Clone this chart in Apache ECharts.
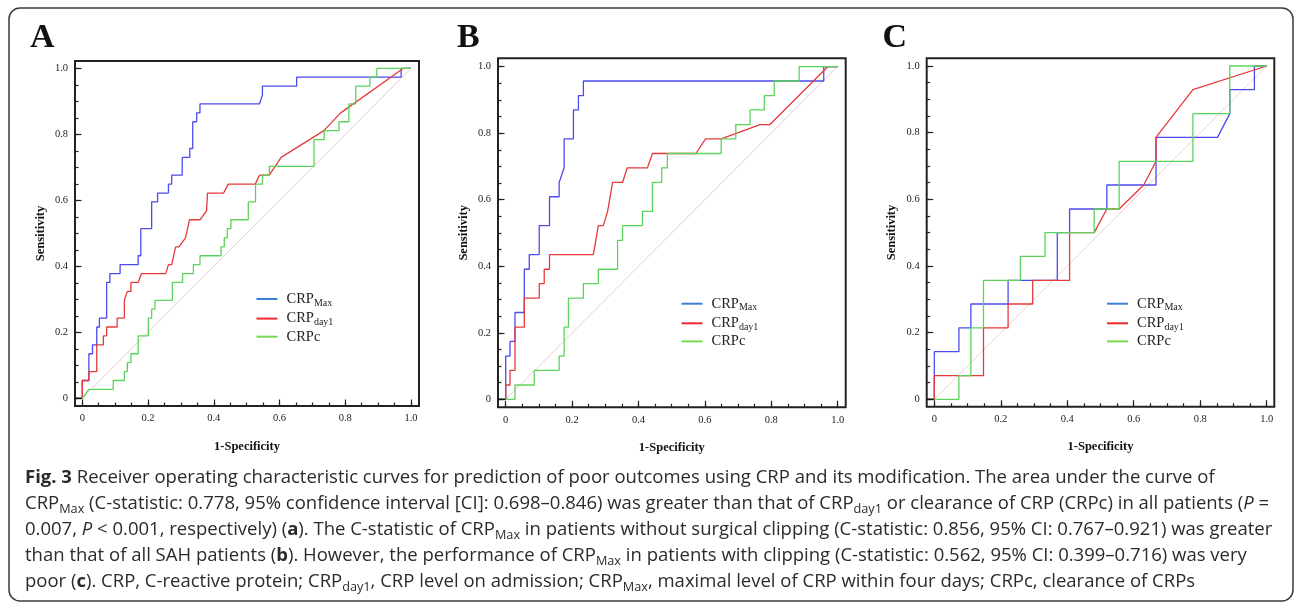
<!DOCTYPE html>
<html>
<head>
<meta charset="utf-8">
<script src="https://cdn.jsdelivr.net/npm/echarts@6/dist/echarts.min.js"></script>
<style>
html,body{margin:0;padding:0;background:#fff;}
#c{width:1295px;height:605px;}
</style>
</head>
<body>
<div id="c"></div>
<script>
// ---------------- DATA ----------------
const seriesNames = ['CRP_Max', 'CRP_day1', 'CRPc'];
const panelLetters = ['A', 'B', 'C'];
const tickValues = [0, 0.2, 0.4, 0.6, 0.8, 1.0];
const minorTickValues = [0,0.05,0.1,0.15,0.2,0.25,0.3,0.35,0.4,0.45,0.5,0.55,0.6,0.65,0.7,0.75,0.8,0.85,0.9,0.95,1.0];
const xAxisTitle = '1-Specificity';
const yAxisTitle = 'Sensitivity';

// Panel A (all patients): [1-specificity, sensitivity] vertices
const aMax = [[0,0],[0,0.054],[0.020,0.054],[0.020,0.135],[0.031,0.135],[0.031,0.162],[0.044,0.162],[0.044,0.216],[0.052,0.216],[0.052,0.243],[0.074,0.243],[0.074,0.351],[0.084,0.351],[0.084,0.378],[0.115,0.378],[0.115,0.405],[0.170,0.405],[0.170,0.432],[0.178,0.432],[0.178,0.514],[0.211,0.514],[0.211,0.595],[0.229,0.595],[0.229,0.622],[0.262,0.622],[0.262,0.649],[0.272,0.649],[0.272,0.676],[0.304,0.676],[0.304,0.730],[0.327,0.730],[0.327,0.757],[0.336,0.757],[0.336,0.838],[0.348,0.838],[0.348,0.865],[0.358,0.865],[0.358,0.892],[0.539,0.892],[0.548,0.919],[0.548,0.946],[0.652,0.946],[0.652,0.973],[0.970,0.973],[0.970,1],[1,1]];
const aDay1 = [[0,0],[0,0.054],[0.020,0.054],[0.020,0.081],[0.044,0.081],[0.044,0.162],[0.064,0.162],[0.064,0.189],[0.074,0.189],[0.074,0.216],[0.106,0.216],[0.106,0.243],[0.128,0.243],[0.128,0.297],[0.137,0.324],[0.148,0.324],[0.148,0.351],[0.170,0.351],[0.180,0.378],[0.254,0.378],[0.262,0.405],[0.272,0.405],[0.284,0.459],[0.294,0.459],[0.314,0.486],[0.326,0.541],[0.358,0.541],[0.378,0.568],[0.381,0.622],[0.430,0.622],[0.444,0.649],[0.526,0.649],[0.539,0.676],[0.569,0.676],[0.605,0.730],[0.735,0.811],[0.786,0.865],[0.977,1],[1,1]];
const aC = [[0,0],[0.020,0.027],[0.094,0.027],[0.094,0.054],[0.128,0.054],[0.128,0.081],[0.137,0.081],[0.137,0.108],[0.148,0.108],[0.148,0.135],[0.170,0.135],[0.170,0.189],[0.201,0.189],[0.201,0.243],[0.211,0.243],[0.211,0.270],[0.221,0.270],[0.221,0.297],[0.274,0.297],[0.274,0.351],[0.305,0.351],[0.305,0.378],[0.338,0.378],[0.338,0.405],[0.358,0.405],[0.358,0.432],[0.422,0.432],[0.422,0.459],[0.432,0.459],[0.432,0.486],[0.441,0.486],[0.441,0.514],[0.452,0.514],[0.452,0.541],[0.505,0.541],[0.505,0.595],[0.527,0.595],[0.527,0.649],[0.548,0.649],[0.548,0.676],[0.569,0.676],[0.569,0.703],[0.705,0.703],[0.705,0.784],[0.736,0.784],[0.736,0.811],[0.781,0.811],[0.781,0.838],[0.811,0.838],[0.811,0.892],[0.832,0.892],[0.832,0.946],[0.875,0.946],[0.875,0.973],[0.896,0.973],[0.896,1],[1,1]];

// Panel B (without surgical clipping)
const bMax = [[0,0],[0,0.130],[0.013,0.130],[0.013,0.174],[0.028,0.174],[0.028,0.261],[0.056,0.261],[0.056,0.391],[0.071,0.391],[0.071,0.435],[0.101,0.435],[0.101,0.522],[0.132,0.522],[0.132,0.609],[0.161,0.609],[0.161,0.652],[0.176,0.696],[0.176,0.783],[0.204,0.783],[0.204,0.870],[0.219,0.870],[0.219,0.913],[0.234,0.913],[0.234,0.957],[0.958,0.957],[0.958,1],[1,1]];
const bDay1 = [[0,0],[0,0.043],[0.013,0.043],[0.013,0.087],[0.028,0.087],[0.028,0.217],[0.056,0.217],[0.056,0.304],[0.101,0.304],[0.101,0.348],[0.116,0.348],[0.116,0.391],[0.132,0.391],[0.132,0.435],[0.264,0.435],[0.279,0.522],[0.294,0.522],[0.307,0.565],[0.322,0.652],[0.352,0.652],[0.366,0.696],[0.427,0.696],[0.442,0.739],[0.573,0.739],[0.602,0.783],[0.649,0.783],[0.766,0.826],[0.796,0.826],[0.970,1],[1,1]];
const bC = [[0,0],[0.028,0],[0.028,0.043],[0.086,0.043],[0.086,0.087],[0.161,0.087],[0.161,0.130],[0.176,0.130],[0.176,0.217],[0.189,0.217],[0.189,0.304],[0.234,0.304],[0.234,0.348],[0.279,0.348],[0.279,0.391],[0.337,0.391],[0.337,0.478],[0.352,0.478],[0.352,0.522],[0.412,0.522],[0.412,0.565],[0.442,0.565],[0.442,0.652],[0.470,0.652],[0.470,0.696],[0.487,0.696],[0.487,0.739],[0.649,0.739],[0.649,0.783],[0.693,0.783],[0.693,0.826],[0.736,0.826],[0.736,0.870],[0.779,0.870],[0.779,0.913],[0.809,0.913],[0.809,0.957],[0.884,0.957],[0.884,1],[1,1]];

// Panel C (with clipping)
const cMax = [[0,0],[0,0.143],[0.074,0.143],[0.074,0.214],[0.110,0.214],[0.110,0.286],[0.222,0.286],[0.222,0.357],[0.370,0.357],[0.370,0.5],[0.407,0.5],[0.407,0.571],[0.519,0.571],[0.519,0.643],[0.667,0.643],[0.667,0.786],[0.852,0.786],[0.889,0.857],[0.889,0.929],[0.963,0.929],[0.963,1],[1,1]];
const cDay1 = [[0,0],[0,0.071],[0.148,0.071],[0.148,0.214],[0.222,0.214],[0.222,0.286],[0.296,0.286],[0.296,0.357],[0.407,0.357],[0.407,0.5],[0.481,0.5],[0.519,0.571],[0.556,0.571],[0.630,0.643],[0.667,0.714],[0.667,0.786],[0.778,0.929],[1,1]];
const cC = [[0,0],[0.074,0],[0.074,0.071],[0.110,0.071],[0.110,0.214],[0.148,0.214],[0.148,0.357],[0.259,0.357],[0.259,0.429],[0.333,0.429],[0.333,0.5],[0.481,0.5],[0.481,0.571],[0.556,0.571],[0.556,0.714],[0.778,0.714],[0.778,0.857],[0.889,0.857],[0.889,1],[1,1]];

const refDiagonal = [[0,0],[1,1]];
const baseStub = [[-0.022,0],[0,0]];

// Caption lines: [style, text] tokens (n normal, b bold, i italic, s subscript, k bold link)
const captionLines = [
  [['b','Fig. 3'],['n',' Receiver operating characteristic curves for prediction of poor outcomes using CRP and its modification. The area under the curve of']],
  [['n','CRP'],['s','Max'],['n',' (C-statistic: 0.778, 95% confidence interval [CI]: 0.698–0.846) was greater than that of CRP'],['s','day1'],['n',' or clearance of CRP (CRPc) in all patients ('],['i','P'],['n',' =']],
  [['n','0.007, '],['i','P'],['n',' < 0.001, respectively) ('],['k','a'],['n','). The C-statistic of CRP'],['s','Max'],['n',' in patients without surgical clipping (C-statistic: 0.856, 95% CI: 0.767–0.921) was greater']],
  [['n','than that of all SAH patients ('],['k','b'],['n','). However, the performance of CRP'],['s','Max'],['n',' in patients with clipping (C-statistic: 0.562, 95% CI: 0.399–0.716) was very']],
  [['n','poor ('],['k','c'],['n','). CRP, C-reactive protein; CRP'],['s','day1'],['n',', CRP level on admission; CRP'],['s','Max'],['n',', maximal level of CRP within four days; CRPc, clearance of CRPs']]
];

// ---------------- LAYOUT / STYLE ----------------
const panelData = [[aMax, aDay1, aC], [bMax, bDay1, bC], [cMax, cDay1, cC]];
const lineColors = ['#4b4bf0', '#e63a3a', '#5cd35c'];
const legendColors = ['#3d7fd6', '#f02a2a', '#76d84c'];
// grid: pixel positions of data [x=0, y=1, x=1, y=0] ; frame: [l,t,r,b]
const layout = [
  {grid:[82.3, 68.3, 411.0, 398.3], frame:[75, 61, 419, 406], letter:[30, 38], legend:[256.5, 290]},
  {grid:[505.7, 66.7, 837.7, 399.3], frame:[498, 58.3, 845.7, 407.3], letter:[457, 38], legend:[681.5, 294.7]},
  {grid:[934.3, 66.0, 1266.7, 399.3], frame:[926.7, 58.3, 1274.3, 406.7], letter:[882.5, 38], legend:[1107, 294.7]}
];
const serif = '"Liberation Serif", "Times New Roman", serif';
const capFont = '"Open Sans"';
const capSize = 17.5, capSub = 12;
const capLeft = 25;
const capBase = [485, 511, 537, 563, 589];
const capRight = [1221, 1272, 1264, 1243, 1198];

const chart = echarts.init(document.getElementById('c'), null, {renderer:'canvas'});

const grids = [], xAxes = [], yAxes = [], series = [], legends = [], graphics = [];
const fmt = v => (Math.abs(v) < 1e-9 ? '0' : v.toFixed(1));
const legendLabel = {CRP_Max:'{m|CRP}{s|Max}', CRP_day1:'{m|CRP}{s|day1}', CRPc:'{m|CRPc}'};
const tickLine = {color:'#222', width:1.2};
const noLine = {show:false, onZero:false};

layout.forEach((L, i) => {
  const [gx0, gy1, gx1, gy0] = L.grid;
  const [fl, ft, fr, fb] = L.frame;
  const sx = gx1 - gx0, sy = gy0 - gy1;
  const xmin = -(gx0 - fl) / sx, xmax = 1 + (fr - gx1) / sx;
  const ymin = -(fb - gy0) / sy, ymax = 1 + (gy1 - ft) / sy;
  grids.push({left:fl, top:ft, width:fr-fl, height:fb-ft, containLabel:false, show:true,
    borderColor:'#222', borderWidth:2, backgroundColor:'transparent'});
  xAxes.push({
    gridIndex:i, type:'value', min:xmin, max:xmax, position:'bottom',
    axisLine:noLine,
    axisTick:{show:true, inside:true, length:3.5, customValues:minorTickValues, lineStyle:tickLine},
    minorTick:{show:false}, splitLine:{show:false},
    axisLabel:{margin:7, fontFamily:serif, fontSize:10.5, color:'#222', formatter:fmt, customValues:tickValues},
    name:xAxisTitle, nameLocation:'middle', nameGap:34,
    nameTextStyle:{fontFamily:serif, fontWeight:'bold', fontSize:12.5, color:'#111'}
  });
  xAxes.push({
    gridIndex:i, type:'value', min:xmin, max:xmax, position:'bottom',
    axisLine:noLine, axisLabel:{show:false}, splitLine:{show:false},
    axisTick:{show:true, inside:true, length:6.5, customValues:tickValues, lineStyle:tickLine}
  });
  yAxes.push({
    gridIndex:i, type:'value', min:ymin, max:ymax, position:'left',
    axisLine:noLine,
    axisTick:{show:true, inside:true, length:3.5, customValues:minorTickValues, lineStyle:tickLine},
    minorTick:{show:false}, splitLine:{show:false},
    axisLabel:{margin:7, fontFamily:serif, fontSize:10.5, color:'#222', formatter:fmt, customValues:tickValues},
    name:yAxisTitle, nameLocation:'middle', nameGap:28, nameRotate:90,
    nameTextStyle:{fontFamily:serif, fontWeight:'bold', fontSize:12.5, color:'#111'}
  });
  yAxes.push({
    gridIndex:i, type:'value', min:ymin, max:ymax, position:'left',
    axisLine:noLine, axisLabel:{show:false}, splitLine:{show:false},
    axisTick:{show:true, inside:true, length:6.5, customValues:tickValues, lineStyle:tickLine}
  });
  const xi = 2 * i, yi = 2 * i;
  series.push({type:'line', xAxisIndex:xi, yAxisIndex:yi, data:refDiagonal, showSymbol:false, symbol:'none', silent:true,
    lineStyle:{color:'#efcbd0', width:1}, z:1});
  series.push({type:'line', xAxisIndex:xi, yAxisIndex:yi, data:baseStub, showSymbol:false, symbol:'none', silent:true, clip:false,
    lineStyle:{color:'#111', width:1.6}, z:2});
  panelData[i].forEach((d, j) => {
    series.push({type:'line', name:seriesNames[j], xAxisIndex:xi, yAxisIndex:yi, data:d, showSymbol:false, symbol:'none',
      lineStyle:{color:lineColors[j], width:1.3}, itemStyle:{color:lineColors[j]}, z:3+j});
  });
  legends.push({
    orient:'vertical', left:L.legend[0], top:L.legend[1], padding:0, itemGap:1.6, itemWidth:21, itemHeight:2,
    icon:'rect', selectedMode:false,
    data: seriesNames.map((n, j) => ({name:n, itemStyle:{color:legendColors[j]}})),
    formatter: n => legendLabel[n],
    textStyle:{ rich:{
      m:{fontFamily:serif, fontSize:14.5, lineHeight:16, color:'#222', padding:[0,0,0,4]},
      s:{fontFamily:serif, fontSize:10, lineHeight:8, color:'#222', padding:[8,0,0,0]}
    }}
  });
  graphics.push({type:'text', x:L.letter[0], y:L.letter[1], style:{text:panelLetters[i], font:'bold 34px ' + serif, fill:'#111', verticalAlign:'middle'}, silent:true});
});

// outer rounded border
graphics.push({type:'rect', shape:{x:9, y:8, width:1284, height:593, r:11}, style:{fill:'none', stroke:'#3a3a3a', lineWidth:1.5}, silent:true});

// caption
const richCap = {
  n:{fontFamily:capFont, fontSize:capSize, lineHeight:22, color:'#2b2b2b'},
  b:{fontFamily:capFont, fontSize:capSize, fontWeight:'bold', lineHeight:22, color:'#1e1e1e'},
  k:{fontFamily:capFont, fontSize:capSize, fontWeight:'bold', lineHeight:22, color:'#163a70'},
  i:{fontFamily:capFont, fontSize:capSize, fontStyle:'italic', lineHeight:22, color:'#2b2b2b'},
  s:{fontFamily:capFont, fontSize:capSub, lineHeight:10, padding:[11,0,0,0], color:'#2b2b2b'}
};
const mctx = document.createElement('canvas').getContext('2d');
function tokenFont(st){
  if (st === 's') return capSub + 'px ' + capFont;
  if (st === 'b' || st === 'k') return 'bold ' + capSize + 'px ' + capFont;
  if (st === 'i') return 'italic ' + capSize + 'px ' + capFont;
  return capSize + 'px ' + capFont;
}
let sumM = 0, sumT = 0;
captionLines.forEach((line, k) => {
  let w = 0;
  line.forEach(([st, t]) => { mctx.font = tokenFont(st); w += mctx.measureText(t).width; });
  sumM += w; sumT += capRight[k] - capLeft;
});
const capScale = sumT / sumM;
captionLines.forEach((line, k) => {
  const txt = line.map(([st, t]) => '{' + st + '|' + t + '}').join('');
  graphics.push({type:'text', x:capLeft, y:capBase[k] - 6.5, scaleX:capScale, scaleY:1,
    style:{text:txt, rich:richCap, verticalAlign:'middle', align:'left', fill:'#2b2b2b'}, silent:true});
});

chart.setOption({
  animation:false,
  backgroundColor:'#fff',
  grid:grids, xAxis:xAxes, yAxis:yAxes, series:series, legend:legends,
  graphic:{elements:graphics}
});
</script>
</body>
</html>
